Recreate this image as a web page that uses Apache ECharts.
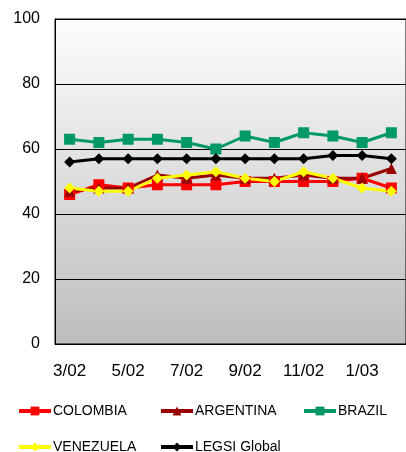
<!DOCTYPE html>
<html>
<head>
<meta charset="utf-8">
<script src="https://cdn.jsdelivr.net/npm/echarts@6/dist/echarts.min.js"></script>
<style>
html,body{margin:0;padding:0;background:#fff;}
#c{width:406px;height:452px;}
</style>
</head>
<body>
<div id="c"></div>
<script>
var categories = ['3/02','4/02','5/02','6/02','7/02','8/02','9/02','10/02','11/02','12/02','1/03','2/03'];
var colombia  = [46, 49, 48, 49, 49, 49, 50, 50, 50, 50, 51, 48];
var argentina = [47, 48, 48, 52, 51, 52, 51, 51, 52, 51, 51, 54];
var brazil    = [63, 62, 63, 63, 62, 60, 64, 62, 65, 64, 62, 65];
var venezuela = [48, 47, 47, 51, 52, 53, 51, 50, 53, 51, 48, 47];
var legsi     = [56, 57, 57, 57, 57, 57, 57, 57, 57, 58, 58, 57];
var yTicks = [0, 20, 40, 60, 80, 100];

var chart = echarts.init(document.getElementById('c'));
var font = 'Liberation Sans, Arial, sans-serif';
function ser(name, data, color, symbol, size) {
  return {
    name: name, type: 'line', data: data,
    symbol: symbol, symbolSize: size,
    lineStyle: {color: color, width: 3},
    itemStyle: {color: color},
    animation: false
  };
}
function leg(name, left, top) {
  return {
    data: [name], left: left, top: top, padding: 0,
    itemWidth: 32, itemHeight: 11, itemGap: 0,
    lineStyle: {width: 4},
    textStyle: {fontFamily: font, fontSize: 14, color: '#000', padding: [0,0,0,-3]},
    selectedMode: false
  };
}
chart.setOption({
  animation: false,
  grid: {
    left: 55, top: 19, width: 360, height: 325,
    show: true,
    backgroundColor: new echarts.graphic.LinearGradient(0, 0, 0, 1, [
      {offset: 0, color: '#fdfdfd'},
      {offset: 1, color: '#bdbdbd'}
    ]),
    borderColor: '#000', borderWidth: 1
  },
  legend: [
    leg('COLOMBIA', 17, 404),
    leg('ARGENTINA', 159, 404),
    leg('BRAZIL', 302, 404),
    leg('VENEZUELA', 17, 440),
    leg('LEGSI Global', 159, 440)
  ],
  xAxis: {
    type: 'category', data: categories, boundaryGap: true,
    axisLine: {lineStyle: {color: '#000', width: 1}},
    axisTick: {interval: 1, length: 5, lineStyle: {color: '#000'}},
    axisLabel: {interval: 1, fontFamily: font, fontSize: 17, color: '#000', margin: 19}
  },
  yAxis: {
    type: 'value', min: yTicks[0], max: yTicks[yTicks.length-1], interval: 20,
    axisLine: {show: true, lineStyle: {color: '#000', width: 1}},
    axisTick: {show: false},
    splitLine: {lineStyle: {color: '#000', width: 1}},
    axisLabel: {fontFamily: font, fontSize: 16, color: '#000', margin: 15}
  },
  series: [
    ser('COLOMBIA', colombia, '#ff0000', 'rect', 11),
    ser('ARGENTINA', argentina, '#990000', 'triangle', 11),
    ser('BRAZIL', brazil, '#009966', 'rect', 11),
    ser('VENEZUELA', venezuela, '#ffff00', 'diamond', 11),
    ser('LEGSI Global', legsi, '#000000', 'diamond', 11)
  ]
});
</script>
</body>
</html>
